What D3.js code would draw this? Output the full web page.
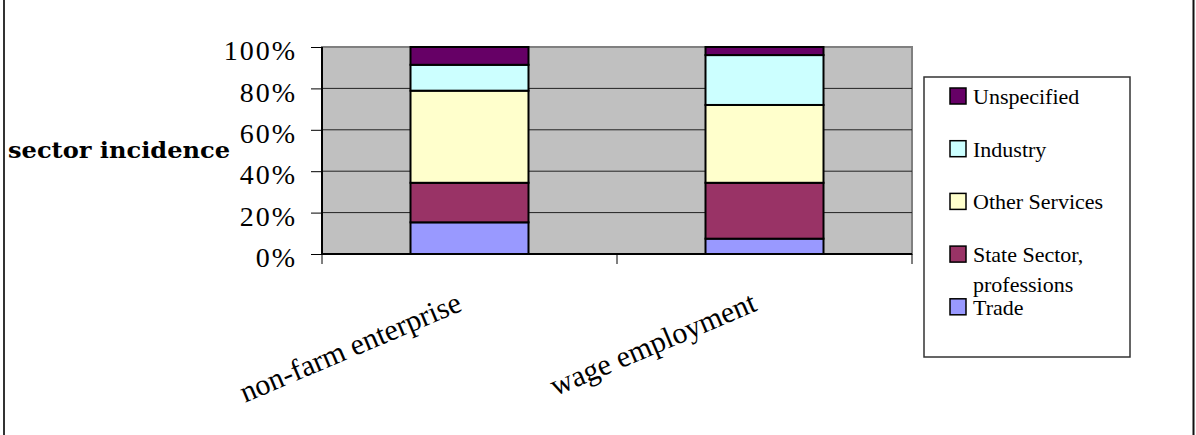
<!DOCTYPE html>
<meta charset="utf-8">
<html lang="en">
<head>
  <title>Sector incidence</title>
  <script src="https://d3js.org/d3.v7.min.js"></script>
  <style>
    body { margin: 0; background: #fff; }
    text { font-family: "Liberation Serif", "Times New Roman", serif; fill: #000; }
  </style>
</head>
<body>
<div id="chart"></div>
<script>
// data (shares in %, bottom to top)
var categories = ["non-farm enterprise", "wage employment"];
var sectors = ["Trade", "State Sector, professions", "Other Services", "Industry", "Unspecified"];
var trade       = [15.3, 7.4];
var stateSector = [19.1, 27.0];
var otherServ   = [44.5, 37.6];
var industry    = [12.5, 24.1];
var unspecified = [8.6, 3.9];
var yTicks = [0, 20, 40, 60, 80, 100];
var colors = ["#9999ff", "#993366", "#ffffcc", "#ccffff", "#660066"];

var W = 1196, H = 435;
var margin = {top: 47, left: 322, right: W - 912, bottom: H - 254};
var width = W - margin.left - margin.right,
    height = H - margin.top - margin.bottom;

var svg = d3.select("#chart").append("svg")
  .attr("width", W).attr("height", H);

// outer frame (only the sides show)
svg.append("line").attr("x1", 4).attr("x2", 4).attr("y1", 0).attr("y2", H)
  .attr("stroke", "#333").attr("stroke-width", 2);
svg.append("line").attr("x1", 1193.5).attr("x2", 1193.5).attr("y1", 0).attr("y2", H)
  .attr("stroke", "#111").attr("stroke-width", 2);

var g = svg.append("g")
  .attr("transform", "translate(" + margin.left + "," + margin.top + ")");

var x = d3.scaleBand().domain(categories).range([0, width]).paddingInner(0.6).paddingOuter(0.3);
var y = d3.scaleLinear().domain([0, 100]).range([height, 0]);

// plot area
g.append("rect").attr("width", width).attr("height", height)
  .attr("fill", "#c0c0c0").attr("stroke", "#808080").attr("stroke-width", 2);

// gridlines
g.selectAll(".grid").data(yTicks.slice(1, -1)).enter().append("line")
  .attr("x1", 0).attr("x2", width)
  .attr("y1", function(d) { return y(d); }).attr("y2", function(d) { return y(d); })
  .attr("stroke", "#222").attr("stroke-width", 1);

// stacked bars
var rows = categories.map(function(c, i) {
  return {cat: c, Trade: trade[i], "State Sector, professions": stateSector[i],
    "Other Services": otherServ[i], Industry: industry[i], Unspecified: unspecified[i]};
});
var stack = d3.stack().keys(sectors)(rows);

g.selectAll(".layer").data(stack).enter().append("g")
  .attr("fill", function(d, i) { return colors[i]; })
  .selectAll("rect").data(function(d) { return d; }).enter().append("rect")
    .attr("x", function(d) { return x(d.data.cat); })
    .attr("width", x.bandwidth())
    .attr("y", function(d) { return y(d[1]); })
    .attr("height", function(d) { return y(d[0]) - y(d[1]); })
    .attr("stroke", "#000").attr("stroke-width", 2);

// y axis
var yAxis = g.append("g")
  .call(d3.axisLeft(y).tickValues(yTicks).tickSize(11).tickPadding(14)
    .tickFormat(function(d) { return d + "%"; }));
yAxis.select(".domain").attr("stroke", "#000").attr("stroke-width", 2).attr("d", "M0,0V" + height);
yAxis.selectAll("line").attr("stroke", "#000");
yAxis.selectAll("text").style("font-size", "28px").style("letter-spacing", "2px")
  .style("font-family", "'Liberation Serif', serif").attr("dy", "0.45em");

// x axis: ticks at category boundaries
var xAxis = g.append("g").attr("transform", "translate(0," + height + ")");
xAxis.append("line").attr("x1", 0).attr("x2", width).attr("stroke", "#000").attr("stroke-width", 2);
xAxis.selectAll(".tk").data([0, width / 2, width]).enter().append("line")
  .attr("x1", function(d) { return d; }).attr("x2", function(d) { return d; })
  .attr("y1", 0).attr("y2", 10).attr("stroke", "#000");

xAxis.selectAll(".lbl").data(categories).enter().append("text")
  .attr("transform", function(d) {
    return "translate(" + (x(d) + x.bandwidth() / 2 - 6) + ",56) rotate(-23)";
  })
  .style("text-anchor", "end")
  .style("font-size", "30px")
  .text(function(d) { return d; });

// y axis title
svg.append("text")
  .attr("x", 8).attr("y", 158)
  .attr("textLength", 222).attr("lengthAdjust", "spacingAndGlyphs")
  .style("font-family", "'DejaVu Serif', serif")
  .style("font-size", "23px").style("font-weight", "bold")
  .text("sector incidence");

// legend
var legend = svg.append("g").attr("transform", "translate(924,77)");
legend.append("rect").attr("width", 206).attr("height", 280)
  .attr("fill", "#fff").attr("stroke", "#333").attr("stroke-width", 1.5);

var legendItems = sectors.slice().reverse();
var legendColors = colors.slice().reverse();
var item = legend.selectAll(".item").data(legendItems).enter().append("g")
  .attr("transform", function(d, i) { return "translate(26," + (11 + i * 52.7) + ")"; });
item.append("rect").attr("width", 16).attr("height", 16)
  .attr("fill", function(d, i) { return legendColors[i]; })
  .attr("stroke", "#000").attr("stroke-width", 1.5);
item.append("text").attr("x", 23).attr("y", 16)
  .style("font-size", "22px")
  .each(function(d) {
    var t = d3.select(this);
    if (d === "State Sector, professions") {
      t.append("tspan").attr("x", 23).text("State Sector,");
      t.append("tspan").attr("x", 23).attr("dy", 30).text("professions");
    } else {
      t.text(d);
    }
  });
</script>
</body>
</html>
